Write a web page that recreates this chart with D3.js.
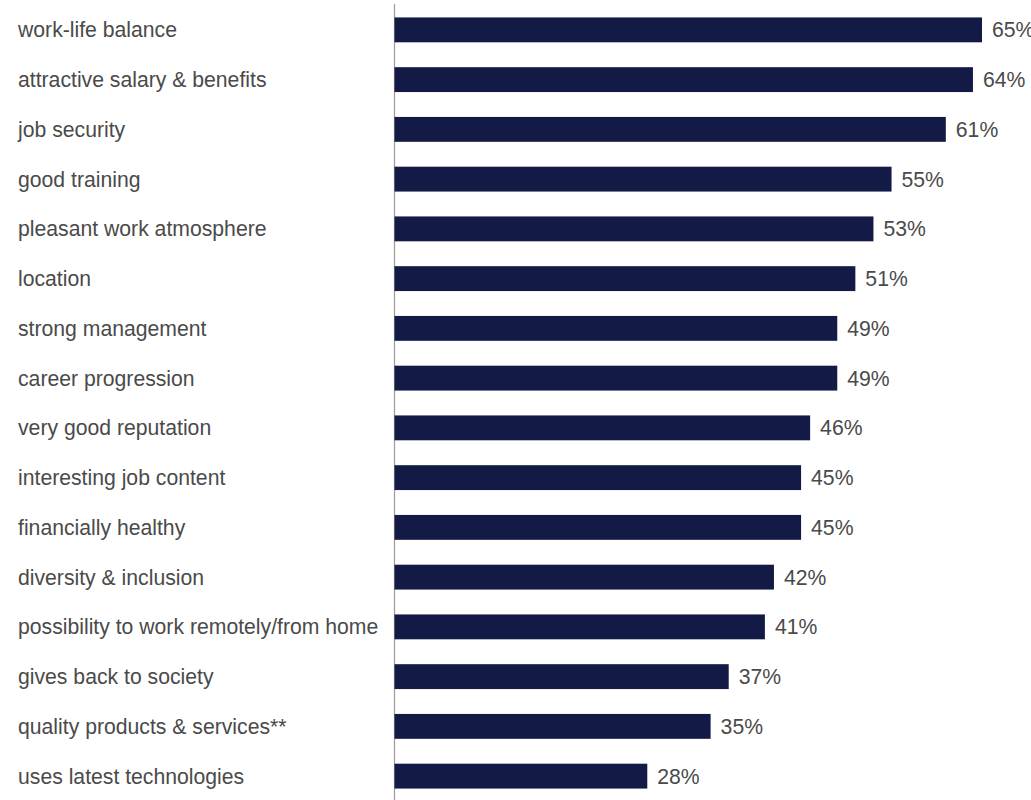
<!DOCTYPE html>
<html>
<head>
<meta charset="utf-8">
<script src="https://cdn.jsdelivr.net/npm/d3@7"></script>
<style>
  html, body { margin: 0; padding: 0; background: #ffffff; }
  svg { display: block; }
  text { font-family: "Liberation Sans", Arial, sans-serif; }
</style>
</head>
<body>
<svg id="chart" width="1031" height="800"></svg>
<script>
// Employer attributes and share of respondents (%)
const categories = [
  "work-life balance",
  "attractive salary & benefits",
  "job security",
  "good training",
  "pleasant work atmosphere",
  "location",
  "strong management",
  "career progression",
  "very good reputation",
  "interesting job content",
  "financially healthy",
  "diversity & inclusion",
  "possibility to work remotely/from home",
  "gives back to society",
  "quality products & services**",
  "uses latest technologies"
];
const values = [65, 64, 61, 55, 53, 51, 49, 49, 46, 45, 45, 42, 41, 37, 35, 28];

const svg = d3.select("#chart");

const x = d3.scaleLinear().domain([0, 65]).range([394, 982]);
const y = d3.scaleBand()
  .domain(categories)
  .range([5, 801])
  .paddingInner(0.5)
  .paddingOuter(0.25);

const fontSize = "21.2px";
const textColor = "#4a4a4a";

// baseline axis
svg.append("line")
  .attr("x1", 394.5).attr("x2", 394.5)
  .attr("y1", 4).attr("y2", 800)
  .attr("stroke", "#9a9a9a")
  .attr("stroke-width", 1.2);

// category labels
svg.append("g")
  .selectAll("text")
  .data(categories)
  .join("text")
  .attr("x", 18)
  .attr("y", d => y(d) + y.bandwidth() / 2)
  .attr("dy", "0.35em")
  .attr("font-size", fontSize)
  .attr("fill", textColor)
  .text(d => d);

const rows = categories.map((c, i) => ({ c, v: values[i] }));

// bars
svg.append("g")
  .selectAll("rect")
  .data(rows)
  .join("rect")
  .attr("x", x(0) + 0.5)
  .attr("y", d => y(d.c))
  .attr("width", d => x(d.v) - x(0) - 0.5)
  .attr("height", y.bandwidth())
  .attr("fill", "#131a45");

// value labels
svg.append("g")
  .selectAll("text")
  .data(rows)
  .join("text")
  .attr("x", d => x(d.v) + 10)
  .attr("y", d => y(d.c) + y.bandwidth() / 2)
  .attr("dy", "0.35em")
  .attr("font-size", fontSize)
  .attr("fill", textColor)
  .text(d => d.v + "%");
</script>
</body>
</html>
